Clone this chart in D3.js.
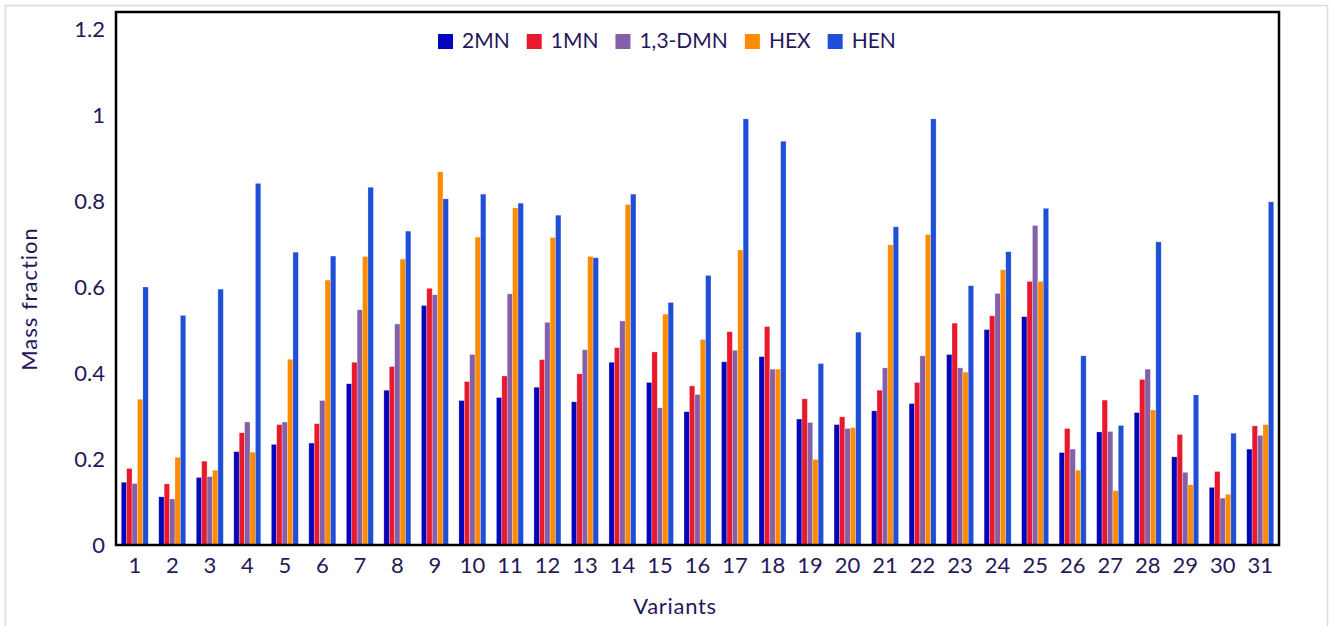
<!DOCTYPE html>
<html><head><meta charset="utf-8">
<script src="https://cdn.jsdelivr.net/npm/d3@7"></script>
<style>body{margin:0;background:#fff}svg{display:block}text{font-family:Lato,"Open Sans",sans-serif}</style>
</head><body><svg id="c" width="1333" height="626"></svg>
<script>
const categories = d3.range(1, 32).map(String);
const seriesNames = ["2MN", "1MN", "1,3-DMN", "HEX", "HEN"];
const seriesColors = ["#0505BE", "#E8192C", "#8560A8", "#FF8C00", "#1F4FD6"];
const v2MN  = [0.146,0.112,0.157,0.217,0.234,0.237,0.375,0.360,0.557,0.336,0.343,0.367,0.333,0.425,0.378,0.310,0.426,0.438,0.293,0.280,0.312,0.329,0.443,0.501,0.531,0.215,0.263,0.308,0.205,0.134,0.223];
const v1MN  = [0.178,0.142,0.195,0.261,0.280,0.282,0.425,0.415,0.597,0.380,0.393,0.431,0.398,0.459,0.449,0.370,0.496,0.508,0.340,0.298,0.360,0.378,0.516,0.533,0.613,0.271,0.337,0.385,0.257,0.171,0.277];
const vDMN  = [0.143,0.107,0.159,0.286,0.286,0.336,0.547,0.514,0.582,0.443,0.584,0.518,0.454,0.521,0.319,0.350,0.453,0.409,0.285,0.271,0.412,0.440,0.412,0.585,0.743,0.223,0.264,0.409,0.169,0.109,0.255];
const vHEX  = [0.339,0.204,0.174,0.216,0.432,0.616,0.671,0.665,0.868,0.716,0.784,0.715,0.671,0.792,0.537,0.478,0.686,0.409,0.199,0.273,0.698,0.722,0.402,0.640,0.613,0.174,0.126,0.314,0.140,0.118,0.280];
const vHEN  = [0.600,0.534,0.595,0.841,0.681,0.672,0.832,0.730,0.805,0.816,0.795,0.767,0.668,0.816,0.564,0.627,0.991,0.939,0.422,0.495,0.740,0.991,0.603,0.682,0.783,0.440,0.278,0.705,0.349,0.260,0.798];
const yTicks = [0, 0.2, 0.4, 0.6, 0.8, 1, 1.2];
const seriesValues = [v2MN, v1MN, vDMN, vHEX, vHEN];

const svg = d3.select("#c");
const textColor = "#26175A";
const L = 116, R = 1279, T = 12, B = 545;

svg.append("rect").attr("x",5.5).attr("y",5.5).attr("width",1322).attr("height",640)
  .attr("fill","none").attr("stroke","#DCD6EA").attr("stroke-width",1.5);

const x = d3.scaleBand().domain(categories).range([L, R]).paddingInner(0.28).paddingOuter(0.14);
const xs = d3.scaleBand().domain(seriesNames).range([0, x.bandwidth()]);
const y = d3.scaleLinear().domain([0, 1.2]).range([B, 29]);

const groups = svg.append("g").selectAll("g").data(categories).join("g")
  .attr("transform", d => `translate(${x(d)},0)`);
groups.selectAll("rect").data((d, i) => seriesNames.map((s, k) => ({s, k, v: seriesValues[k][i]})))
  .join("rect")
  .attr("x", d => xs(d.s)).attr("width", xs.bandwidth())
  .attr("y", d => y(d.v)).attr("height", d => B - y(d.v))
  .attr("fill", d => seriesColors[d.k])
  .attr("stroke", "#ffffff").attr("stroke-opacity", 0.45).attr("stroke-width", 0.6);

// frame
svg.append("rect").attr("x", L).attr("y", T).attr("width", R - L).attr("height", B - T)
  .attr("fill", "none").attr("stroke", "#000").attr("stroke-width", 2.5);

// y axis
const yAxis = d3.axisLeft(y).tickValues(yTicks).tickSize(0).tickPadding(11).tickFormat(d => String(d));
const gy = svg.append("g").attr("transform", `translate(${L},0)`).call(yAxis);
gy.select(".domain").remove();
gy.selectAll("text").attr("fill", textColor).style("font-size", "22px").style("font-family", "Lato");

// x axis
const xAxis = d3.axisBottom(x).tickSize(0).tickPadding(12);
const gx = svg.append("g").attr("transform", `translate(0,${B})`).call(xAxis);
gx.select(".domain").remove();
gx.selectAll("text").attr("fill", textColor).style("font-size", "22px").style("font-family", "Lato");

svg.append("text").attr("x", 675).attr("y", 614).attr("text-anchor", "middle")
  .attr("fill", textColor).style("font-size", "22px").style("letter-spacing", "0.7px").text("Variants");
svg.append("text").attr("transform", "translate(37,299) rotate(-90)").attr("text-anchor", "middle")
  .attr("fill", textColor).style("font-size", "22px").style("letter-spacing", "1px").text("Mass fraction");

// legend
const lg = svg.append("g");
let lx = 438;
seriesNames.forEach((s, k) => {
  lg.append("rect").attr("x", lx).attr("y", 34).attr("width", 15).attr("height", 15).attr("fill", seriesColors[k]);
  const t = lg.append("text").attr("x", lx + 24).attr("y", 48).attr("fill", textColor)
    .style("font-size", "21px").text(s);
  lx += 24 + t.node().getComputedTextLength() + 17;
});
</script></body></html>
